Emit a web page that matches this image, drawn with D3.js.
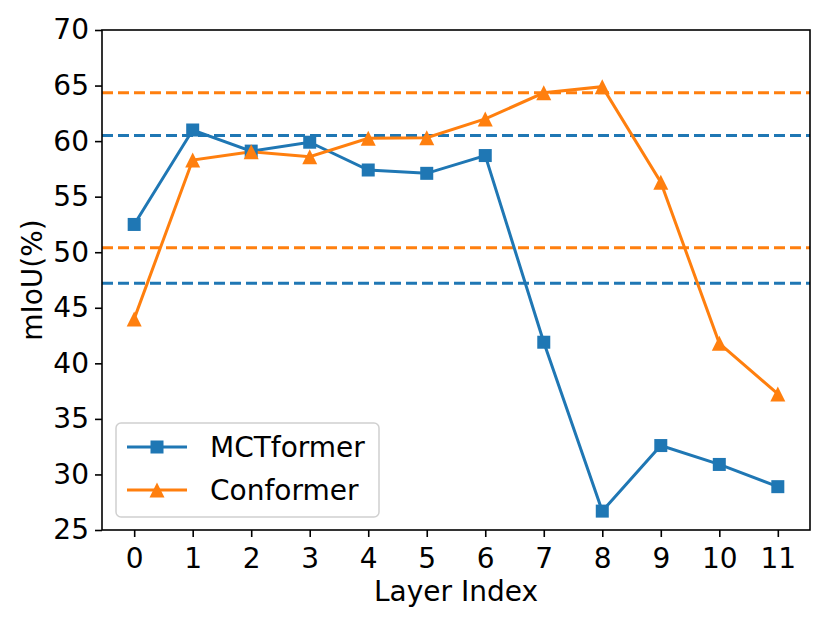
<!DOCTYPE html>
<html lang="en">
<head>
  <meta charset="UTF-8">
  <title>mIoU per layer</title>
  <script src="https://d3js.org/d3.v7.min.js"></script>
  <style>
    body { margin: 0; padding: 0; background: #fff; }
    svg { display: block; font-family: "DejaVu Sans", sans-serif; }
  </style>
</head>
<body>
  <div id="chart"></div>
  <script>
    // data
    const layers = [0, 1, 2, 3, 4, 5, 6, 7, 8, 9, 10, 11];
    const mctformer = [52.5, 61.0, 59.1, 59.9, 57.4, 57.1, 58.7, 41.9, 26.7, 32.6, 30.9, 28.9];
    const conformer = [44.0, 58.3, 59.05, 58.6, 60.25, 60.3, 62.0, 64.35, 64.9, 56.3, 41.8, 37.25];
    const mctRefLines = [60.5, 47.2];
    const confRefLines = [64.35, 50.4];
    const yTicks = [25, 30, 35, 40, 45, 50, 55, 60, 65, 70];

    const blue = "#1f77b4", orange = "#ff7f0e";
    const fs = 28;

    // dimensions
    const fullW = 830, fullH = 623;
    const margin = { top: 30, right: 20, bottom: 93, left: 102 };
    const width = fullW - margin.left - margin.right;
    const height = fullH - margin.top - margin.bottom;

    const svg = d3.select("#chart").append("svg")
      .attr("width", fullW).attr("height", fullH);
    const g = svg.append("g")
      .attr("transform", `translate(${margin.left},${margin.top})`);

    // scales (matplotlib-style 5% margin on x)
    const pad = 0.05 * (d3.max(layers) - d3.min(layers));
    const x = d3.scaleLinear()
      .domain([d3.min(layers) - pad, d3.max(layers) + pad])
      .range([0, width]);
    const y = d3.scaleLinear().domain([25, 70]).range([height, 0]);

    // dashed reference lines
    const refs = mctRefLines.map(v => ({ v, c: blue }))
      .concat(confRefLines.map(v => ({ v, c: orange })));
    g.append("g").selectAll("line").data(refs).enter().append("line")
      .attr("x1", 0).attr("x2", width)
      .attr("y1", d => y(d.v)).attr("y2", d => y(d.v))
      .attr("stroke", d => d.c)
      .attr("stroke-width", 3)
      .attr("stroke-dasharray", "11,5");

    const line = d3.line().x((d, i) => x(layers[i])).y(d => y(d));

    // series lines
    [[mctformer, blue], [conformer, orange]].forEach(([vals, c]) => {
      g.append("path").datum(vals)
        .attr("fill", "none").attr("stroke", c)
        .attr("stroke-width", 3).attr("d", line);
    });

    // markers
    const sq = 13;
    g.append("g").selectAll("rect").data(mctformer).enter().append("rect")
      .attr("x", (d, i) => x(layers[i]) - sq / 2)
      .attr("y", d => y(d) - sq / 2)
      .attr("width", sq).attr("height", sq)
      .attr("fill", blue);

    function triPath(s) {
      // matplotlib '^' : centered bounding box
      return `M0,${-s}L${s},${s}L${-s},${s}Z`;
    }
    g.append("g").selectAll("path").data(conformer).enter().append("path")
      .attr("transform", (d, i) => `translate(${x(layers[i])},${y(d)})`)
      .attr("d", triPath(7.5))
      .attr("fill", orange);

    // axes
    const xAxis = d3.axisBottom(x).tickValues(layers).tickSize(7).tickPadding(6)
      .tickFormat(d3.format("d"));
    const yAxis = d3.axisLeft(y).tickValues(yTicks).tickSize(7).tickPadding(6);

    const gx = g.append("g").attr("transform", `translate(0,${height})`).call(xAxis);
    const gy = g.append("g").call(yAxis);
    [gx, gy].forEach(a => {
      a.select(".domain").remove();
      a.selectAll("line").attr("stroke", "#000").attr("stroke-width", 1.6);
      a.selectAll("text").attr("font-size", fs).attr("fill", "#000")
        .attr("font-family", "DejaVu Sans");
    });
    gx.selectAll("text").attr("dy", "0.88em");

    // frame
    g.append("rect").attr("width", width).attr("height", height)
      .attr("fill", "none").attr("stroke", "#000").attr("stroke-width", 1.6);

    // axis labels
    svg.append("text")
      .attr("x", margin.left + width / 2).attr("y", 601)
      .attr("text-anchor", "middle").attr("font-size", fs)
      .text("Layer Index");
    svg.append("text")
      .attr("transform", `translate(42,${margin.top + height / 2}) rotate(-90)`)
      .attr("text-anchor", "middle").attr("font-size", fs)
      .text("mIoU(%)");

    // legend
    const leg = svg.append("g").attr("transform", "translate(116,423)");
    leg.append("rect").attr("width", 263).attr("height", 94).attr("rx", 5)
      .attr("fill", "#fff").attr("fill-opacity", 0.8)
      .attr("stroke", "#d0d0d0").attr("stroke-width", 1.5);
    const items = [
      { name: "MCTformer", c: blue, m: "sq" },
      { name: "Conformer", c: orange, m: "tri" }
    ];
    items.forEach((it, i) => {
      const yy = 24 + i * 43;
      const row = leg.append("g").attr("transform", `translate(0,${yy})`);
      row.append("line").attr("x1", 11).attr("x2", 71)
        .attr("stroke", it.c).attr("stroke-width", 3);
      if (it.m === "sq") {
        row.append("rect").attr("x", 41 - sq / 2).attr("y", -sq / 2)
          .attr("width", sq).attr("height", sq).attr("fill", it.c);
      } else {
        row.append("path").attr("transform", "translate(41,0)")
          .attr("d", triPath(7.5)).attr("fill", it.c);
      }
      row.append("text").attr("x", 94).attr("dy", "0.36em")
        .attr("font-size", fs).text(it.name);
    });
  </script>
</body>
</html>
